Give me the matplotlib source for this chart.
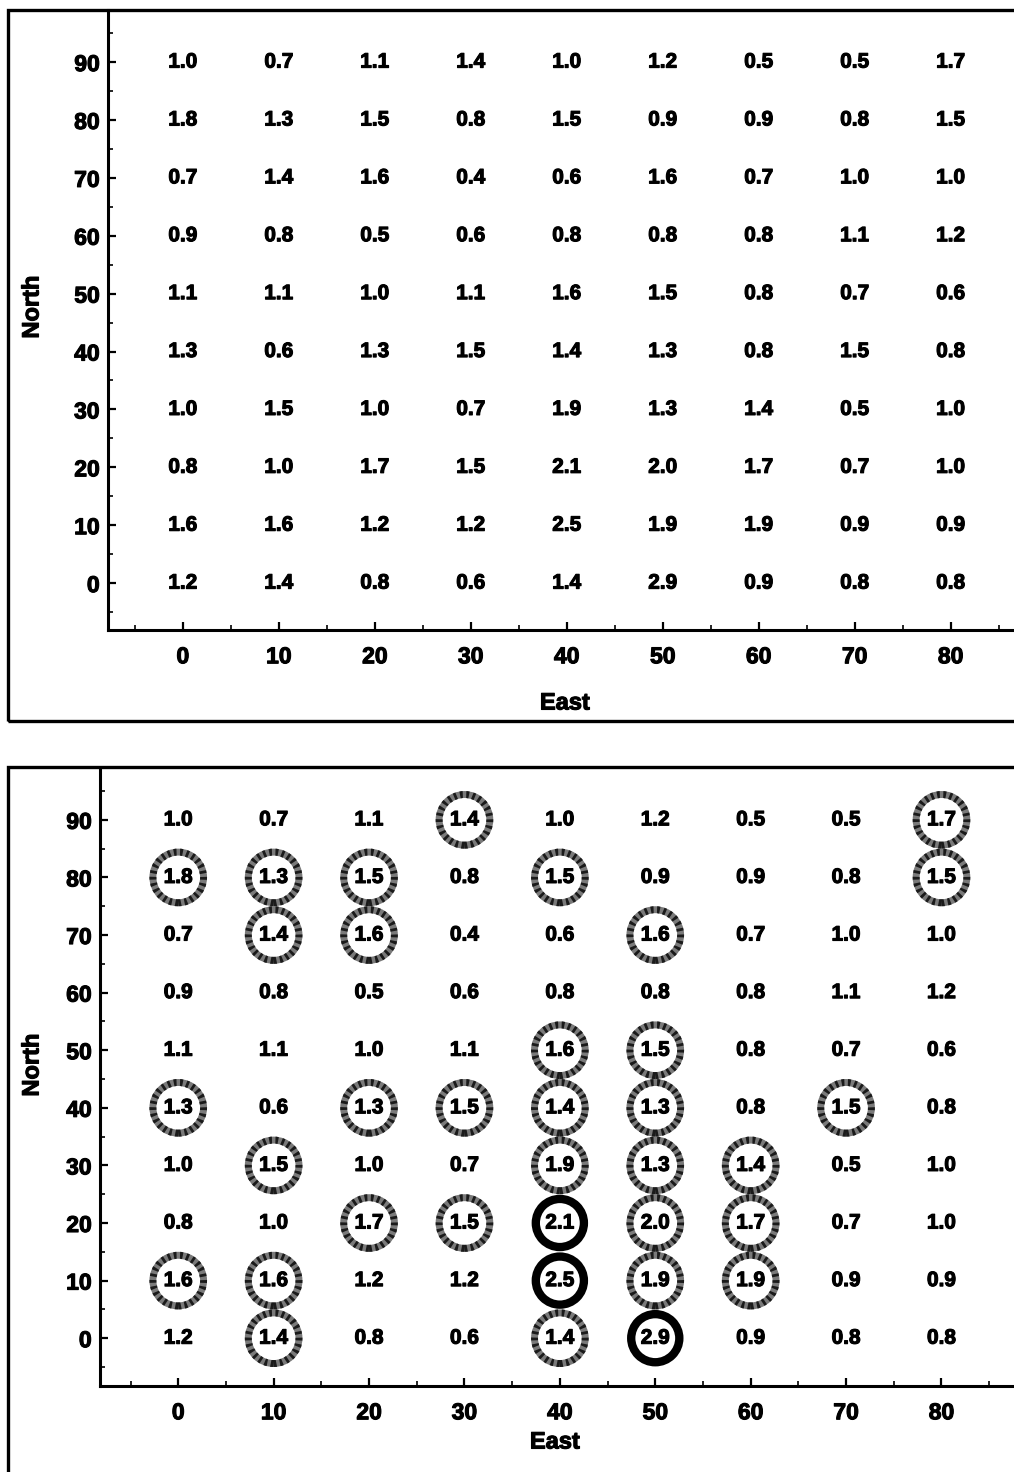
import numpy as np
import matplotlib
matplotlib.use('Agg')
import matplotlib.pyplot as plt
import matplotlib.patheffects as pe
from matplotlib.patches import Rectangle

plt.rcParams['font.family'] = ['Liberation Sans', 'DejaVu Sans']
plt.rcParams['font.weight'] = 'bold'

# grid coordinates
east = [0, 10, 20, 30, 40, 50, 60, 70, 80]
north = [90, 80, 70, 60, 50, 40, 30, 20, 10, 0]

# values, one row per North value (top row = 90)
values = [
    [1.0, 0.7, 1.1, 1.4, 1.0, 1.2, 0.5, 0.5, 1.7],
    [1.8, 1.3, 1.5, 0.8, 1.5, 0.9, 0.9, 0.8, 1.5],
    [0.7, 1.4, 1.6, 0.4, 0.6, 1.6, 0.7, 1.0, 1.0],
    [0.9, 0.8, 0.5, 0.6, 0.8, 0.8, 0.8, 1.1, 1.2],
    [1.1, 1.1, 1.0, 1.1, 1.6, 1.5, 0.8, 0.7, 0.6],
    [1.3, 0.6, 1.3, 1.5, 1.4, 1.3, 0.8, 1.5, 0.8],
    [1.0, 1.5, 1.0, 0.7, 1.9, 1.3, 1.4, 0.5, 1.0],
    [0.8, 1.0, 1.7, 1.5, 2.1, 2.0, 1.7, 0.7, 1.0],
    [1.6, 1.6, 1.2, 1.2, 2.5, 1.9, 1.9, 0.9, 0.9],
    [1.2, 1.4, 0.8, 0.6, 1.4, 2.9, 0.9, 0.8, 0.8],
]

# thresholds used for the rings in the lower panel
low_limit = 1.3
high_limit = 2.1

W, H = 1014, 1472
fig = plt.figure(figsize=(W / 100, H / 100), dpi=100)

# slightly heavier strokes, the printed digits are very bold
heavy = [pe.withStroke(linewidth=0.8, foreground='black')]


def px(x0, y0, x1, y1):
    # pixel box -> figure fraction [left, bottom, width, height]
    return [x0 / W, 1 - y1 / H, (x1 - x0) / W, (y1 - y0) / H]


def setup(ax, xlim, ylim):
    ax.set_xlim(*xlim)
    ax.set_ylim(*ylim)
    ax.set_xticks(east)
    ax.set_yticks(north)
    ax.set_xticks(np.arange(-5, 90, 10), minor=True)
    ax.set_yticks(np.arange(-5, 100, 10), minor=True)
    ax.spines['top'].set_visible(False)
    ax.spines['right'].set_visible(False)
    for s in ['left', 'bottom']:
        ax.spines[s].set_linewidth(2.2)
    ax.tick_params(which='major', direction='in', length=6, width=1.6,
                   labelsize=16.5)
    ax.tick_params(axis='x', which='major', pad=11)
    ax.tick_params(axis='y', which='major', pad=6)
    ax.tick_params(which='minor', direction='in', length=3.5, width=1.2)
    for lab in ax.get_xticklabels() + ax.get_yticklabels():
        lab.set_fontweight('bold')
        lab.set_path_effects(heavy)
    for i, n in enumerate(north):
        for j, e in enumerate(east):
            ax.text(e, n, f"{values[i][j]:.1f}", ha='center', va='center',
                    fontsize=15, fontweight='bold', zorder=3,
                    path_effects=heavy)


def labels(nx, ny, ex, ey):
    fig.text(nx / W, 1 - ny / H, 'North', rotation=90, ha='center',
             va='center', fontsize=17, fontweight='bold', path_effects=heavy)
    fig.text(ex / W, 1 - ey / H, 'East', ha='center', va='center',
             fontsize=17, fontweight='bold', path_effects=heavy)


# ---- top panel ----
fig.patches.append(Rectangle((8 / W, 1 - 721 / H), 1.2, (721 - 10) / H,
                             transform=fig.transFigure, fill=False,
                             lw=2.4, ec='black'))
ax1 = fig.add_axes(px(108, 10, 1014, 630))
setup(ax1, (-7.8, 86.6), (-8.1, 99))
labels(32, 307, 565, 703)

# ---- bottom panel ----
fig.patches.append(Rectangle((8 / W, -0.2), 1.2, 0.2 + 1 - 767 / H,
                             transform=fig.transFigure, fill=False,
                             lw=2.4, ec='black'))
ax2 = fig.add_axes(px(100, 768, 1014, 1386))
setup(ax2, (-8.2, 87.6), (-8.3, 99))
labels(32, 1065, 555, 1442)

vals = np.array(values)
ee, nn = np.meshgrid(east, north)
mid = (vals >= low_limit) & (vals < high_limit)
high = vals >= high_limit
# stippled grey rings: grey base with a fine black dotted overlay
ax2.scatter(ee[mid], nn[mid], s=1330, facecolors='none', edgecolors='#7a7a7a',
            linewidths=5, zorder=2)
ax2.scatter(ee[mid], nn[mid], s=1330, facecolors='none', edgecolors='#1a1a1a',
            linewidths=5, linestyles=(0, (0.4, 0.5)), zorder=2)
ax2.scatter(ee[high], nn[high], s=1200, facecolors='none', edgecolors='black',
            linewidths=6, zorder=2)

fig.savefig('out.png', dpi=100)
